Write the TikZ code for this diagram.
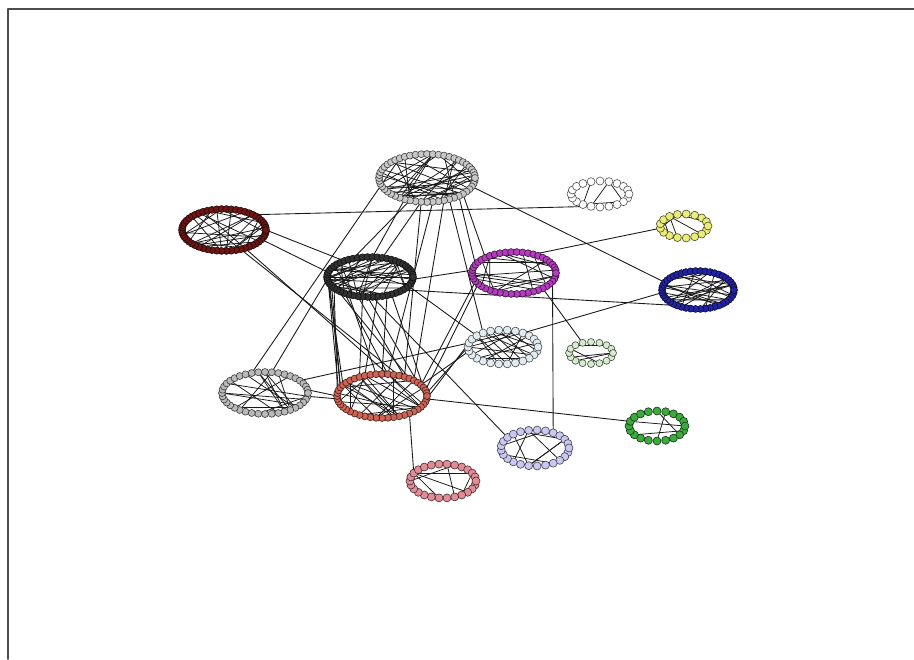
\documentclass[tikz,border=0pt]{standalone}
\usetikzlibrary{calc}

\definecolor{ringgray}{RGB}{200,200,200}
\definecolor{ringmaroon}{RGB}{110,22,22}
\definecolor{ringblack}{RGB}{50,50,50}
\definecolor{ringmagenta}{RGB}{180,60,190}
\definecolor{ringyellow}{RGB}{235,235,120}
\definecolor{ringblue}{RGB}{35,35,165}
\definecolor{ringice}{RGB}{225,235,240}
\definecolor{ringmint}{RGB}{215,235,205}
\definecolor{ringgreen}{RGB}{60,170,60}
\definecolor{ringlavender}{RGB}{200,200,240}
\definecolor{ringsilver}{RGB}{185,185,185}
\definecolor{ringsalmon}{RGB}{205,100,85}
\definecolor{ringpink}{RGB}{225,140,150}

\pgfdeclarelayer{edges}
\pgfsetlayers{edges,main}

\tikzset{
  vert/.style={circle, inner sep=0pt, line width=0.5pt},
  chord/.style={line width=0.65pt, black!90},
  link/.style={line width=0.75pt, black!90},
}

% ring of vertices: name, cx, cy, rx, ry, count, colour, size
\newcommand{\ring}[8]{%
  \expandafter\xdef\csname rn#1\endcsname{#6}%
  \foreach \k in {1,...,#6}
    \node[vert, fill=#7, draw=#7!30!black, minimum size=#8] (#1-\k)
      at ({#2+#4*cos(360/#6*\k)}, {#3+#5*sin(360/#6*\k)}) {};
}
% chords inside one ring: name, how many, seed
\newcommand{\chords}[3]{%
  \pgfmathsetseed{#3}%
  \foreach \k in {1,...,#2} {
    \pgfmathrandominteger{\ca}{1}{\csname rn#1\endcsname}
    \pgfmathtruncatemacro{\cb}{mod(\ca-1+floor(\csname rn#1\endcsname/4)+random(0,floor(\csname rn#1\endcsname/2)),\csname rn#1\endcsname)+1}
    \draw[chord] (#1-\ca.center) -- (#1-\cb.center);
  }}
% link between two rings, each end given by its angle
\newcommand{\conn}[4]{%
  \pgfmathtruncatemacro{\ia}{mod(round(#2/360*\csname rn#1\endcsname)+\csname rn#1\endcsname-1,\csname rn#1\endcsname)+1}%
  \pgfmathtruncatemacro{\ib}{mod(round(#4/360*\csname rn#3\endcsname)+\csname rn#3\endcsname-1,\csname rn#3\endcsname)+1}%
  \draw[link] (#1-\ia.center) -- (#3-\ib.center);}

\begin{document}
\begin{tikzpicture}[x=0.03cm, y=-0.03cm, line cap=round, line join=round]
  \useasboundingbox (0,0) rectangle (914,659);
  \draw[line width=1.6pt, black!70] (8,659) -- (8,9) -- (914,9);

  % the rings
  \ring{gtop}{427}{178}{48}{24}{52}{ringgray}{0.21cm}
  \ring{mar}{224}{230}{42}{21}{54}{ringmaroon}{0.21cm}
  \ring{blk}{370}{277}{43}{20}{54}{ringblack}{0.21cm}
  \ring{mag}{514}{273}{42}{21}{46}{ringmagenta}{0.21cm}
  \ring{wht}{600}{194}{29}{13}{20}{white}{0.24cm}
  \ring{yel}{684}{226}{24}{12}{17}{ringyellow}{0.24cm}
  \ring{blu}{698}{290}{36}{19}{46}{ringblue}{0.21cm}
  \ring{lbl}{503}{347}{35}{17}{26}{ringice}{0.24cm}
  \ring{lgr}{591}{353}{22}{11}{16}{ringmint}{0.21cm}
  \ring{grn}{657}{426}{28}{15}{20}{ringgreen}{0.24cm}
  \ring{lav}{535}{448}{34}{18}{25}{ringlavender}{0.24cm}
  \ring{glf}{265}{393}{43}{21}{40}{ringsilver}{0.21cm}
  \ring{sal}{382}{396}{45}{22}{48}{ringsalmon}{0.21cm}
  \ring{pnk}{443}{481}{33}{17}{26}{ringpink}{0.24cm}

  \begin{pgfonlayer}{edges}
    % inside the rings
    \foreach \r/\m/\s in {gtop/30/11, mar/22/12, blk/32/13, mag/16/14, wht/4/15,
        yel/5/16, blu/20/17, lbl/16/18, lgr/4/19, grn/4/20, lav/8/21,
        glf/14/22, sal/22/23, pnk/6/24}
      {\chords{\r}{\m}{\s}}
    % between the rings
    \foreach \a/\p/\b/\q in {mar/313/wht/112, mar/0/blk/235, mar/25/blk/195,
        mar/70/sal/290, mar/60/sal/275, gtop/235/glf/255, gtop/110/blk/250,
        gtop/100/blk/290, gtop/120/blk/270, gtop/80/sal/280, gtop/95/sal/300,
        gtop/70/sal/315, gtop/40/mag/225, gtop/50/mag/205, gtop/20/blu/200,
        gtop/65/lbl/240, blk/40/blu/125, blk/160/sal/200, blk/165/sal/195,
        blk/155/sal/205, blk/170/sal/210, blk/150/sal/190, blk/120/sal/260,
        blk/110/sal/300, blk/100/sal/240, blk/90/sal/320, blk/130/sal/280,
        blk/80/sal/250, blk/140/sal/310, blk/70/sal/270, blk/60/sal/335,
        mag/300/yel/165, mag/22/lav/302, mag/50/lgr/240, mag/160/sal/330,
        mag/150/sal/345, mag/185/blk/5, lbl/310/blu/170, lbl/180/sal/350,
        lbl/200/sal/10, glf/320/lbl/190, glf/350/sal/180, glf/10/sal/170,
        sal/50/pnk/210, sal/10/grn/190, blk/85/lav/215, blk/175/glf/280,
        lbl/215/blk/30, sal/330/lbl/170}
      {\conn{\a}{\p}{\b}{\q}}
  \end{pgfonlayer}
\end{tikzpicture}
\end{document}
